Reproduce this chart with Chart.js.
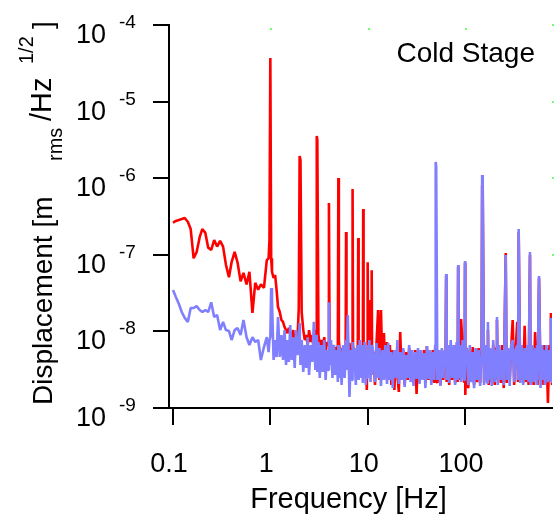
<!DOCTYPE html>
<html>
<head>
<meta charset="utf-8">
<script src="https://cdn.jsdelivr.net/npm/chart.js@4.4.1/dist/chart.umd.min.js"></script>
<style>
  html, body { margin: 0; padding: 0; background: #fff; }
</style>
</head>
<body>
<canvas id="chart" width="555" height="516"></canvas>
<script>
// frequency grid [Hz], shared by both spectra
const freqHz = [
  0.1, 0.107, 0.115, 0.123, 0.132, 0.142, 0.152, 0.163, 0.175, 0.188,
  0.2, 0.215, 0.23, 0.247, 0.265, 0.284, 0.305, 0.327, 0.35, 0.376,
  0.4, 0.43, 0.46, 0.495, 0.53, 0.57, 0.61, 0.655, 0.7, 0.75,
  0.8, 0.86, 0.92, 0.96, 0.98, 1.0, 1.02, 1.04, 1.08,
  1.12, 1.16, 1.2, 1.25, 1.3, 1.35, 1.4, 1.45, 1.5, 1.55,
  1.6, 1.66, 1.72, 1.78, 1.84, 1.9, 1.96, 2.0, 2.04, 2.1,
  2.18, 2.26, 2.34, 2.42, 2.5, 2.6, 2.7, 2.8, 2.9, 2.96,
  3.0, 3.04, 3.12, 3.22, 3.34, 3.46, 3.58, 3.7, 3.82, 3.94,
  4.0, 4.06, 4.2, 4.35, 4.5, 4.65, 4.8, 4.94, 5.0, 5.06,
  5.2, 5.4, 5.6, 5.8, 5.94, 6.0, 6.06, 6.25, 6.5, 6.75,
  6.92, 7.0, 7.08, 7.3, 7.55, 7.8, 7.92, 8.0, 8.08, 8.3,
  8.55, 8.8, 8.92, 9.0, 9.08, 9.3, 9.55, 9.8, 9.92, 10.0,
  10.1, 10.4, 10.7, 10.92, 11.0, 11.1,
  11.5, 11.9, 12.3, 12.8, 13.2, 13.7, 14.2, 14.7, 15.2, 15.8,
  16.3, 16.9, 17.5, 18.1, 18.8, 19.5, 20.2, 20.9, 21.6, 22.4,
  23.2, 24.0, 24.9, 25.8, 26.7, 27.6, 28.6, 29.6, 30.7, 31.8,
  32.9, 34.1, 35.3, 36.6, 37.9, 39.2, 40.6, 42.1, 43.6, 45.1,
  46.7, 48.4, 49.4, 50.0, 50.6, 52.0, 53.9, 55.8, 57.8, 59.8,
  62.0, 63.2, 64.0, 64.8, 66.5, 68.8, 71.3, 73.8, 76.5, 79.2,
  82.0, 84.0, 85.0, 86.0, 88.0, 91.1, 94.4, 97.7, 99.3, 100,
  100.7,
  104, 108, 112, 116, 120, 124, 128.5, 133, 138, 143,
  148, 150, 152, 157, 163, 169, 172, 175, 181, 188,
  195, 202, 209, 213, 217, 225, 233, 241, 250, 262,
  268, 278, 288, 298, 309, 320, 332, 344, 350, 356,
  369, 382, 396, 410, 425, 440, 450, 465, 472, 489,
  507, 525, 544, 550, 556, 576, 597, 618, 640, 650,
  663, 687, 711, 737, 750, 763, 783
];

// displacement, nm_rms/Hz^1/2 (red trace)
const redNm = [
  262, 277, 285, 293, 302, 270, 217, 90, 109, 170,
  217, 193, 124, 116, 156, 128, 152, 128, 74, 51,
  80, 109, 80, 45, 58, 41, 60, 17.4, 43, 35,
  41, 37, 85, 90, 156, 37100, 90, 60, 50,
  54.5, 34.7, 20.8, 17.9, 14.1, 13.3, 11.4, 10.4, 9.5, 11.1,
  9.5, 8.4, 10.4, 7.06, 8.97, 7.72, 20.2, 1950, 1730, 17.9,
  10.4, 7.72, 8.97, 6.64, 10.4, 7.27, 8.97, 5.72, 8.4, 10.4,
  3560, 3150, 8.97, 6.64, 7.72, 5.72, 8.4, 5.38, 7.27, 6.64,
  474, 7.72, 5.38, 6.64, 4.63, 6.26, 4.92, 6.64, 1006, 7.72,
  4.92, 6.07, 4.23, 6.64, 5.38, 198, 6.64, 4.49, 7.06, 3.99,
  6.07, 723, 6.64, 4.23, 5.72, 3.64, 6.07, 166, 6.64, 3.99,
  5.38, 3.13, 5.72, 396, 6.07, 2.70, 4.92, 1.72, 5.38, 80,
  5.72, 2.95, 25.7, 4.23, 63, 5.38,
  5.38, 2.00, 6.64, 19.0, 2.32, 19.0, 2.95, 9.5, 2.46, 7.27,
  2.32, 6.64, 2.00, 5.72, 1.72, 5.38, 2.70, 1.62, 9.8, 2.32,
  5.72, 2.00, 5.38, 2.32, 6.07, 2.46, 4.92, 2.12, 5.72, 1.52,
  5.72, 2.18, 4.92, 2.46, 5.72, 2.12, 6.45, 2.32, 5.38, 2.18,
  5.72, 2.12, 6.07, 5.72, 2.32, 2.12, 5.38, 2.00, 5.72, 2.32,
  5.38, 5.72, 52.9, 2.18, 6.07, 2.00, 6.64, 2.32, 6.07, 2.12,
  6.64, 2.18, 69.3, 2.32, 5.72, 14.5, 6.64, 2.18, 5.38, 78.2,
  1.48,
  6.07, 1.82, 5.72, 2.32, 6.26, 2.00, 5.38, 2.18, 6.07, 2.12,
  5.72, 815, 701, 2.18, 6.07, 2.32, 10.4, 2.00, 5.72, 2.18,
  6.64, 2.00, 6.07, 14.1, 2.32, 5.72, 2.12, 6.64, 1.82, 105.6,
  2.12, 5.72, 2.32, 6.07, 14.1, 2.00, 6.07, 13.3, 2.18, 198,
  2.32, 6.07, 2.12, 11.8, 2.18, 5.72, 2.00, 99.4, 2.32, 6.07,
  2.00, 9.8, 2.32, 5.72, 2.00, 49.8, 2.32, 6.07, 2.00, 6.64,
  2.32, 6.07, 1.16, 6.64, 2.32, 17.4, 2.00
];

// displacement, nm_rms/Hz^1/2 (blue trace)
const blueNm = [
  34.7, 28.1, 22.8, 17.9, 15.0, 13.3, 20.2, 20.2, 21.4, 19.0,
  17.9, 19.0, 17.9, 24.0, 15.4, 16.4, 10.4, 13.3, 10.4, 10.1,
  7.72, 10.4, 11.1, 8.97, 14.1, 8.4, 6.64, 8.4, 7.27, 7.72,
  4.23, 6.25, 8.4, 5.37, 7.72, 8.4, 36.9, 25.7, 4.23,
  7.72, 4.63, 15.4, 4.63, 8.97, 4.23, 10.4, 3.64, 7.72, 3.99,
  12.1, 4.23, 8.4, 3.33, 10.4, 4.92, 6.64, 12.9, 3.64, 7.72,
  2.95, 6.64, 3.33, 8.4, 2.70, 6.64, 3.99, 13.3, 3.13, 6.64,
  8.97, 2.95, 7.27, 2.46, 6.64, 2.95, 7.72, 2.32, 5.72, 3.13,
  24.0, 3.64, 7.72, 2.46, 6.64, 2.70, 5.72, 2.18, 6.64, 2.46,
  6.07, 2.00, 6.64, 2.46, 5.72, 7.72, 3.13, 16.4, 1.39, 5.72,
  2.32, 7.27, 2.95, 6.07, 2.00, 6.64, 2.70, 5.72, 2.32, 7.72,
  2.46, 6.64, 2.12, 5.72, 2.95, 7.27, 2.00, 5.72, 2.46, 6.64,
  2.70, 7.72, 2.18, 5.72, 2.70, 6.64,
  4.92, 2.18, 7.06, 2.46, 6.07, 1.94, 5.72, 2.32, 6.64, 2.06,
  7.06, 2.32, 5.38, 1.82, 5.72, 2.46, 7.72, 2.06, 5.38, 2.32,
  6.07, 1.88, 4.92, 2.46, 6.64, 2.18, 5.72, 1.94, 5.38, 2.39,
  6.07, 2.06, 5.72, 2.32, 5.22, 1.82, 6.45, 2.39, 5.72, 2.00,
  5.38, 2.32, 6.64, 1630, 1400, 2.32, 5.72, 1.94, 6.07, 2.46,
  5.72, 5.38, 56, 2.32, 6.64, 2.12, 7.72, 2.46, 6.64, 2.00,
  7.27, 2.32, 73.6, 2.46, 6.64, 2.18, 7.72, 2.32, 5.72, 83,
  6.64,
  5.72, 2.00, 6.64, 2.18, 5.38, 1.82, 6.07, 2.32, 5.72, 1.94,
  4.92, 1100, 947, 2.00, 6.64, 2.12, 13.3, 2.32, 6.07, 1.94,
  7.72, 2.18, 5.72, 15.4, 2.00, 6.64, 2.32, 5.72, 2.00, 99.4,
  2.32, 6.07, 1.94, 6.64, 7.72, 2.18, 5.72, 6.64, 2.32, 217,
  2.12, 6.64, 2.00, 6.07, 2.32, 6.64, 2.18, 109, 2.00, 6.64,
  2.18, 6.07, 2.00, 6.64, 2.32, 52.9, 1.82, 6.64, 2.32, 5.72,
  2.00, 6.64, 2.18, 5.72, 2.32, 15.0, 2.12
];

const xTicks = [0.1, 1, 10, 100];
const xTickLabels = ['0.1', '1', '10', '100'];
const yTicks = [1e-9, 1e-8, 1e-7, 1e-6, 1e-5, 1e-4];
const yExponents = ['-9', '-8', '-7', '-6', '-5', '-4'];

const NM = 1e-9;
const FONT = '"Liberation Sans", Arial, Helvetica, sans-serif';

function toPoints(vals) {
  return freqHz.map((f, i) => ({ x: f, y: vals[i] * NM }));
}

const decorations = {
  id: 'decorations',
  beforeDatasetsDraw(chart) {
    const { ctx, chartArea: a, scales: { x, y } } = chart;
    ctx.save();
    ctx.fillStyle = '#70ff70';
    xTicks.slice(1).forEach(v => {
      ctx.fillRect(Math.round(x.getPixelForValue(v)), a.top + 3, 2, 2);
    });
    yTicks.filter(v => v >= 1e-7).forEach(v => {
      ctx.fillRect(a.right, Math.round(y.getPixelForValue(v)) - 1, 2, 2);
    });
    ctx.restore();
  },
  afterDraw(chart) {
    const { ctx, chartArea: a, scales: { x, y } } = chart;
    ctx.save();
    ctx.fillStyle = '#000';
    ctx.textBaseline = 'alphabetic';

    // x tick labels
    ctx.font = '27px ' + FONT;
    ctx.textAlign = 'center';
    xTicks.forEach((v, i) => {
      ctx.fillText(xTickLabels[i], x.getPixelForValue(v) - 4, 472);
    });

    // y tick labels: 10 with raised exponent
    yTicks.forEach((v, i) => {
      const py = y.getPixelForValue(v);
      ctx.font = '27px ' + FONT;
      ctx.textAlign = 'right';
      ctx.fillText('10', a.left - 63, py + 18);
      ctx.font = '19px ' + FONT;
      ctx.textAlign = 'left';
      ctx.fillText(yExponents[i], a.left - 50, py + 3);
    });

    // x title
    ctx.font = '29px ' + FONT;
    ctx.textAlign = 'center';
    ctx.fillText('Frequency [Hz]', (a.left + a.right) / 2 - 12, 508);

    // y title, rotated, with sub/superscripts
    const pieces = [
      ['Displacement [m', 28, 52, 405],
      ['rms', 20, 62, 161],
      ['/Hz', 29, 51, 121],
      ['1/2', 20, 33, 64],
      [']', 28, 52, 29]
    ];
    ctx.textAlign = 'left';
    pieces.forEach(([txt, size, bx, by]) => {
      ctx.save();
      ctx.translate(bx, by);
      ctx.rotate(-Math.PI / 2);
      ctx.font = size + 'px ' + FONT;
      ctx.fillText(txt, 0, 0);
      ctx.restore();
    });

    // panel label
    ctx.font = '28px ' + FONT;
    ctx.textAlign = 'right';
    ctx.fillText('Cold Stage', a.right - 17, 62);
    ctx.restore();
  }
};

new Chart(document.getElementById('chart'), {
  type: 'line',
  data: {
    datasets: [
      { label: 'blue', data: toPoints(blueNm), borderColor: '#8080ff', borderWidth: 2.6 },
      { label: 'red', data: toPoints(redNm), borderColor: '#ff0000', borderWidth: 2.6 }
    ]
  },
  options: {
    responsive: false,
    animation: false,
    devicePixelRatio: 1,
    layout: { padding: { top: 25, right: 3, left: 0, bottom: 0 } },
    plugins: { legend: { display: false }, tooltip: { enabled: false } },
    elements: {
      point: { radius: 0 },
      line: { tension: 0, borderJoinStyle: 'bevel', fill: false }
    },
    scales: {
      x: {
        type: 'logarithmic',
        min: 0.091,
        max: 783,
        afterBuildTicks: s => { s.ticks = xTicks.map(v => ({ value: v })); },
        afterFit: s => { s.height = 108; },
        ticks: { display: false },
        grid: { drawOnChartArea: false, drawTicks: true, tickLength: 17, color: '#000', lineWidth: 2 },
        border: { display: true, color: '#000', width: 2 }
      },
      y: {
        type: 'logarithmic',
        min: 1e-9,
        max: 1e-4,
        afterBuildTicks: s => { s.ticks = yTicks.map(v => ({ value: v })); },
        afterFit: s => { s.width = 169; },
        ticks: { display: false },
        grid: { drawOnChartArea: false, drawTicks: true, tickLength: 16, color: '#000', lineWidth: 2 },
        border: { display: true, color: '#000', width: 2 }
      }
    }
  },
  plugins: [decorations]
});
</script>
</body>
</html>
